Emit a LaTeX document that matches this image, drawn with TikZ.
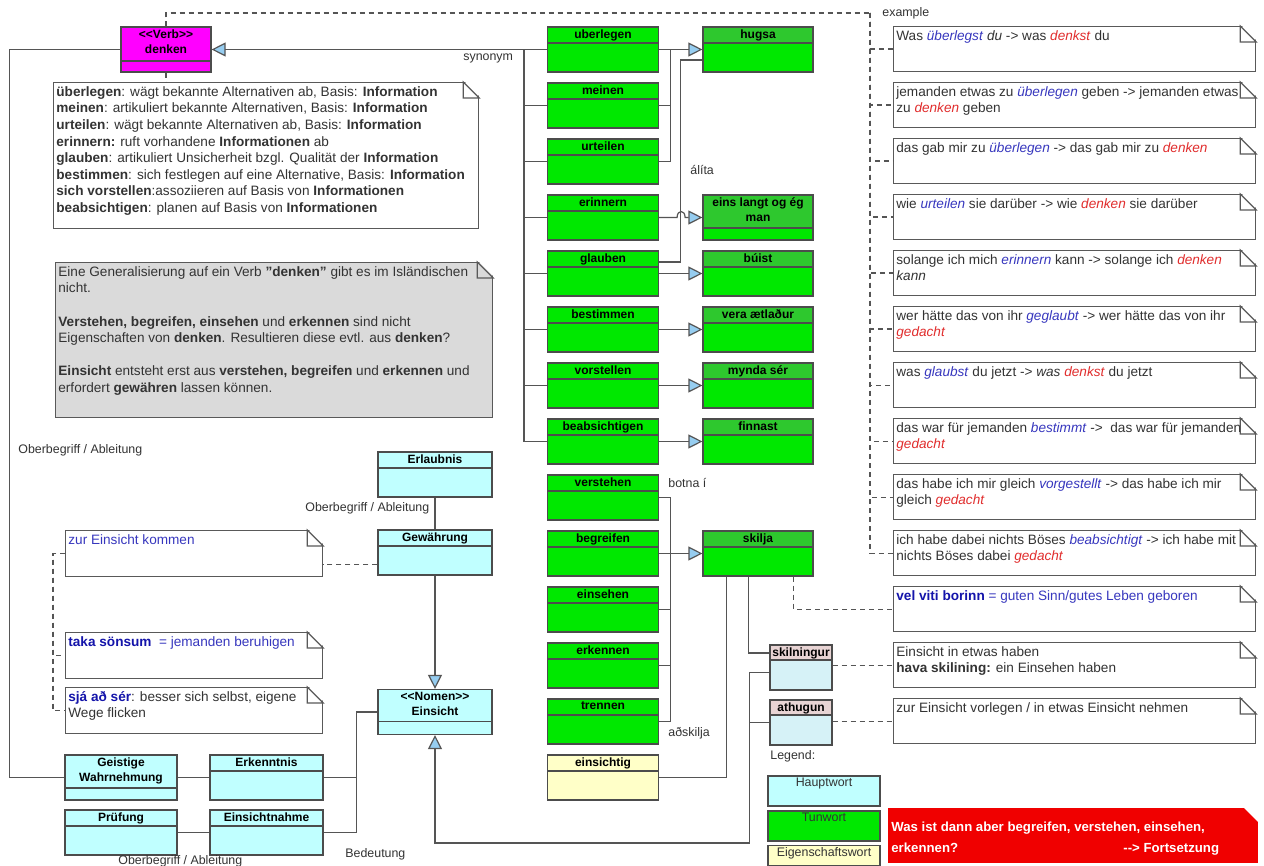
\documentclass[tikz,border=0pt]{standalone}
\usepackage{fontspec}
\setmainfont{Liberation Sans}
\usepackage{tikz}
\usetikzlibrary{arrows.meta}

\definecolor{tunwort}{RGB}{0,232,0}
\definecolor{tunkopf}{RGB}{46,200,46}
\definecolor{hauptwort}{RGB}{192,255,255}
\definecolor{eigwort}{RGB}{255,255,200}
\definecolor{verbcol}{RGB}{255,0,255}
\definecolor{rosakopf}{RGB}{232,212,212}
\definecolor{hellcyan}{RGB}{214,242,247}
\definecolor{notizgrau}{RGB}{218,218,218}
\definecolor{spitze}{RGB}{150,205,240}
\definecolor{linie}{RGB}{85,85,85}
\definecolor{blau}{RGB}{55,55,190}
\definecolor{dunkelblau}{RGB}{20,20,170}
\definecolor{rot}{RGB}{225,45,45}
\definecolor{warnrot}{RGB}{240,0,0}

\newcommand{\klassfont}{\fontsize{6}{7.8}\selectfont\bfseries}
\newcommand{\notizfont}{\fontsize{6.8}{8.3}\selectfont}
\newcommand{\etikettfont}{\fontsize{6.2}{7}\selectfont}
\newcommand{\fortfont}{\fontsize{6.6}{10.5}\selectfont\bfseries}
\newcommand{\bwort}[1]{\textcolor{blau}{\textit{#1}}}
\newcommand{\rwort}[1]{\textcolor{rot}{\textit{#1}}}

\begin{document}
\begin{tikzpicture}[x=0.5pt, y=-0.5pt,
  ln/.style={draw=linie, line width=0.6pt},
  gen/.style={ln, -{Triangle[fill=spitze, length=7pt, width=7pt]}},
  link/.style={ln, dash pattern=on 2.5pt off 2pt},
  cls/.style n args={3}{draw=black!70, line width=0.6pt, fill=#1,
    minimum width=55.5pt, minimum height=22.5pt, inner sep=0pt,
    path picture={\fill[#2] (path picture bounding box.north west) rectangle ([yshift=-#3]path picture bounding box.north east);
      \draw[black!70, line width=0.6pt] ([yshift=-#3]path picture bounding box.north west) -- ([yshift=-#3]path picture bounding box.north east);}},
  kopf/.style={font=\klassfont, anchor=north, inner sep=1.3pt, align=center},
  note/.style 2 args={draw=black!65, line width=0.6pt, fill=white, anchor=north west,
    minimum width=#1, minimum height=#2, inner sep=0pt},
  ntext/.style={anchor=north west, align=left, font=\notizfont, text=black!80, inner xsep=1.5pt, inner ysep=2pt},
  legende/.style={draw=black!70, line width=0.6pt, fill=#1, minimum width=56pt, minimum height=15pt, inner sep=0pt},
  etikett/.style={font=\etikettfont, text=black!80, inner sep=0pt, anchor=west}]

\fill[white] (0,0) rectangle (1264,866);
\useasboundingbox (0,0) rectangle (1264,866);

% Verb
\node[cls={verbcol}{verbcol}{17pt}, minimum width=45pt,
  label={[kopf]north:<\kern0pt<Verb>\kern0pt>\\denken}] (den) at (166,49.5) {};

% Tunwoerter
\foreach \n/\wort [count=\i from 0] in {ueb/uberlegen, mei/meinen, urt/urteilen, eri/erinnern,
    gla/glauben, bes/bestimmen, vor/vorstellen, bea/beabsichtigen, ver/verstehen,
    beg/begreifen, eis/einsehen, erk/erkennen, tre/trennen}
  \node[cls={tunwort}{tunwort}{8pt}, label={[kopf]north:\wort}] (\n) at (603,{49.5+56*\i}) {};
\node[cls={eigwort}{eigwort}{8pt}, label={[kopf]north:einsichtig}] (eig) at (603,777.5) {};

% islaendisch
\node[cls={tunwort}{tunkopf}{8pt}, minimum width=55pt, label={[kopf]north:hugsa}] (hug) at (758,49.5) {};
\node[cls={tunwort}{tunkopf}{16.5pt}, minimum width=55pt, label={[kopf]north:eins langt og ég\\man}] (elm) at (758,217.5) {};
\foreach \n/\wort/\y in {bui/búist/273.5, vea/vera ætlaður/329.5, myn/mynda sér/385.5,
    fin/finnast/441.5, ski/skilja/553.5}
  \node[cls={tunwort}{tunkopf}{8pt}, minimum width=55pt, label={[kopf]north:\wort}] (\n) at (758,\y) {};

% Hauptwoerter
\node[cls={hauptwort}{hauptwort}{8pt}, minimum width=57pt, label={[kopf]north:Erlaubnis}] (erl) at (435,474.5) {};
\node[cls={hauptwort}{hauptwort}{8pt}, minimum width=57pt, label={[kopf]north:Gewährung}] (gew) at (435,552.5) {};
\node[cls={hauptwort}{hauptwort}{16pt}, minimum width=57pt,
  label={[kopf]north:<\kern0pt<Nomen>\kern0pt>\\Einsicht}] (ens) at (435,712) {};
\node[cls={hauptwort}{hauptwort}{16.5pt}, minimum width=56pt, label={[kopf]north:Geistige\\Wahrnehmung}] (gwa) at (121,777.5) {};
\node[cls={hauptwort}{hauptwort}{8pt}, minimum width=56.5pt, label={[kopf]north:Erkenntnis}] (ekn) at (266.5,777.5) {};
\node[cls={hauptwort}{hauptwort}{8pt}, minimum width=56pt, label={[kopf]north:Prüfung}] (pru) at (121,832.5) {};
\node[cls={hauptwort}{hauptwort}{8pt}, minimum width=56.5pt, label={[kopf]north:Einsichtnahme}] (enm) at (266.5,832.5) {};
\node[cls={hellcyan}{rosakopf}{7.5pt}, minimum width=31pt, label={[kopf]north:skilningur}] (skn) at (801,667.5) {};
\node[cls={hellcyan}{rosakopf}{7.5pt}, minimum width=31pt, label={[kopf]north:athugun}] (ath) at (801,722.5) {};

% Legende
\node[etikett] (leg) at (770,756) {Legend:};
\node[legende=hauptwort, label={[kopf, font=\etikettfont, text=black!80]north:Hauptwort}] (lhw) at (824,791) {};
\node[legende=tunwort, label={[kopf, font=\etikettfont, text=black!80]north:Tunwort}] (ltw) at (824,826) {};
\node[legende=eigwort, minimum height=10pt, label={[kopf, font=\etikettfont, text=black!80, inner sep=1pt]north:Eigenschaftswort}] (lew) at (824,855.5) {};

% Notizen
\node[note={212.5pt}{73pt}, label={[ntext]north west:\textbf{überlegen}: wägt bekannte Alternativen ab, Basis: \textbf{Information}\\
\textbf{meinen}: artikuliert bekannte Alternativen, Basis: \textbf{Information}\\
\textbf{urteilen}: wägt bekannte Alternativen ab, Basis: \textbf{Information}\\
\textbf{erinnern:} ruft vorhandene \textbf{Informationen} ab\\
\textbf{glauben}: artikuliert Unsicherheit bzgl. Qualität der \textbf{Information}\\
\textbf{bestimmen}: sich festlegen auf eine Alternative, Basis: \textbf{Information}\\
\textbf{sich vorstellen}:assoziieren auf Basis von \textbf{Informationen}\\
\textbf{beabsichtigen}: planen auf Basis von \textbf{Informationen}}] (info) at (53,82) {};

\node[note={218.5pt}{77.5pt}, fill=notizgrau, label={[ntext]north west:Eine Generalisierung auf ein Verb \textbf{"denken"} gibt es im Isländischen\\
nicht.\\[8.3pt]
\textbf{Verstehen, begreifen, einsehen} und \textbf{erkennen} sind nicht\\
Eigenschaften von \textbf{denken}. Resultieren diese evtl. aus \textbf{denken}?\\[8.3pt]
\textbf{Einsicht} entsteht erst aus \textbf{verstehen, begreifen} und \textbf{erkennen} und\\
erfordert \textbf{gewähren} lassen können.}] (isl) at (55,262) {};

\node[note={128.5pt}{23pt}, label={[ntext]north west:\textcolor{blau}{zur Einsicht kommen}}] (zur) at (65,530) {};
\node[note={128.5pt}{23pt}, label={[ntext]north west:\textcolor{dunkelblau}{\textbf{taka sönsum}}\textcolor{blau}{\ \ = jemanden beruhigen}}] (taka) at (65,632) {};
\node[note={128.5pt}{23pt}, label={[ntext]north west:\textcolor{dunkelblau}{\textbf{sjá að sér}}: besser sich selbst, eigene\\Wege flicken}] (sja) at (65,687) {};

\node[note={181pt}{22.5pt}, label={[ntext]north west:Was \bwort{überlegst} \textit{du} -> was \rwort{denkst} du}] (ex1) at (893,26) {};
\node[note={181pt}{22.5pt}, label={[ntext]north west:jemanden etwas zu \bwort{überlegen} geben -> jemanden etwas\\zu \rwort{denken} geben}] (ex2) at (893,82) {};
\node[note={181pt}{22.5pt}, label={[ntext]north west:das gab mir zu \bwort{überlegen} -> das gab mir zu \rwort{denken}}] (ex3) at (893,138) {};
\node[note={181pt}{22.5pt}, label={[ntext]north west:wie \bwort{urteilen} sie darüber -> wie \rwort{denken} sie darüber}] (ex4) at (893,194) {};
\node[note={181pt}{22.5pt}, label={[ntext]north west:solange ich mich \bwort{erinnern} kann -> solange ich \rwort{denken}\\\textit{kann}}] (ex5) at (893,250) {};
\node[note={181pt}{22.5pt}, label={[ntext]north west:wer hätte das von ihr \bwort{geglaubt} -> wer hätte das von ihr\\\rwort{gedacht}}] (ex6) at (893,306) {};
\node[note={181pt}{22.5pt}, label={[ntext]north west:was \bwort{glaubst} du jetzt -> \textit{was} \rwort{denkst} du jetzt}] (ex7) at (893,362) {};
\node[note={181pt}{22.5pt}, label={[ntext]north west:das war für jemanden \bwort{bestimmt} ->\ \ das war für jemanden\\\rwort{gedacht}}] (ex8) at (893,418) {};
\node[note={181pt}{22.5pt}, label={[ntext]north west:das habe ich mir gleich \bwort{vorgestellt} -> das habe ich mir\\gleich \rwort{gedacht}}] (ex9) at (893,474) {};
\node[note={181pt}{22.5pt}, label={[ntext]north west:ich habe dabei nichts Böses \bwort{beabsichtigt} -> ich habe mit\\nichts Böses dabei \rwort{gedacht}}] (ex10) at (893,530) {};
\node[note={181pt}{22.5pt}, label={[ntext]north west:\textcolor{dunkelblau}{\textbf{vel viti borinn}} \textcolor{blau}{= guten Sinn/gutes Leben geboren}}] (ex11) at (893,586) {};
\node[note={181pt}{22.5pt}, label={[ntext]north west:Einsicht in etwas haben\\\textbf{hava skilining:} ein Einsehen haben}] (ex12) at (893,642) {};
\node[note={181pt}{22.5pt}, label={[ntext]north west:zur Einsicht vorlegen / in etwas Einsicht nehmen}] (ex13) at (893,698) {};

\node[note={184.5pt}{27pt}, fill=warnrot, draw=warnrot,
  label={[ntext, font=\fortfont, text=white, inner ysep=7pt]north west:Was ist dann aber begreifen, verstehen, einsehen,\\
  \makebox[116pt][l]{erkennen?}-\kern0pt-\kern0pt> Fortsetzung}] (fort) at (888,808) {};

% Eselsohren
\foreach \n in {info,isl,zur,taka,sja,ex1,ex2,ex3,ex4,ex5,ex6,ex7,ex8,ex9,ex10,ex11,ex12,ex13,fort}
  \fill[white] ([xshift=-8pt,yshift=1pt]\n.north east) -- ([xshift=1pt,yshift=1pt]\n.north east)
    -- ([xshift=1pt,yshift=-8pt]\n.north east) -- cycle;
\foreach \n in {info,isl,zur,taka,sja,ex1,ex2,ex3,ex4,ex5,ex6,ex7,ex8,ex9,ex10,ex11,ex12,ex13}
  \draw[black!65, line width=0.6pt] ([xshift=-8pt]\n.north east) -- ([yshift=-8pt]\n.north east)
    -- ([xshift=-8pt,yshift=-8pt]\n.north east) -- cycle;

% Verben -> denken
\draw[gen] (ueb.west) -- (den.east);
\coordinate (sbus) at (524,49.5);
\foreach \n in {mei,urt,eri,gla,bes,vor,bea}
  \draw[ln] (\n.west) -| (sbus);
\node[etikett] (syn) at (463,58) {synonym};

% deutsch -> islaendisch
\draw[gen] (ueb.east) -- (hug.west);
\foreach \n in {mei,urt}
  \draw[ln] (\n.east) -| ([xshift=5.75pt]ueb.east);
\draw[ln] ([yshift=5.75pt]gla.east) -| ([xshift=-11pt,yshift=-5.25pt]hug.west) -- ([yshift=-5.25pt]hug.west);
\draw[gen] (eri.east) -- ++(18,0) .. controls +(0,-8) and +(0,-8) .. ++(8,0) -- (elm.west);
\draw[gen] (gla.east) -- (bui.west);
\draw[gen] (bes.east) -- (vea.west);
\draw[gen] (vor.east) -- (myn.west);
\draw[gen] (bea.east) -- (fin.west);
\node[etikett] (alita) at (690,170) {álíta};

\draw[gen] (beg.east) -- (ski.west);
\foreach \n in {ver,eis,erk,tre}
  \draw[ln] (\n.east) -| ([xshift=5.75pt]beg.east);
\node[etikett] (botna) at (668,483) {botna í};
\node[etikett] (adsk) at (668,733) {aðskilja};
\draw[ln] ([xshift=-32.5pt]ski.south east) |- ([yshift=7.25pt]skn.west);
\draw[ln] (eig.east) -| ([xshift=-43.5pt]ski.south east);

% Einsicht
\draw[ln] (erl) -- (gew);
\node[etikett] (ob2) at (305,508) {Oberbegriff / Ableitung};
\draw[gen] (gew) -- (ens);
\draw[gen] ([yshift=-2.5pt]skn.west) -| ++(-20,170.5) -| (ens.south);
\draw[ln] (ath.west) -- ++(-20,0);
\draw[ln] (ekn.east) -| ([xshift=-10.5pt]ens.west) -- (ens.west);
\draw[ln] (enm.east) -| ([xshift=-10.5pt]ens.west);
\draw[ln] (gwa) -- (ekn);
\draw[ln] (pru) -- (enm);
\node[etikett] (bed) at (345,854) {Bedeutung};
\node[etikett] (ob3) at (118,861) {Oberbegriff / Ableitung};
\draw[ln] (den.west) -- ++(-111,0) |- (gwa.west);
\node[etikett] (ob1) at (18,450) {Oberbegriff / Ableitung};

% Notiz-Verbindungen
\coordinate (exbus) at (870,13);
\draw[link] (den.north) |- (exbus);
\foreach \i in {1,...,10}
  \draw[link] (exbus) |- (ex\i.west);
\node[etikett] (expl) at (882,13) {example};
\draw[link] (den.south) -- (info.north -| den.south);
\draw[link] ([yshift=-6pt]gew.west) -- ([yshift=-6pt]gew.west -| zur.east);
\draw[link] (zur.west) -- ++(-12,0) |- (taka.west);
\draw[link] (zur.west) -- ++(-12,0) |- (sja.west);
\draw[link] ([xshift=-10pt]ski.south east) |- (ex11.west);
\draw[link] (ex12.west -| skn.east) -- (ex12.west);
\draw[link] (ex13.west -| ath.east) -- (ex13.west);
\end{tikzpicture}
\end{document}
